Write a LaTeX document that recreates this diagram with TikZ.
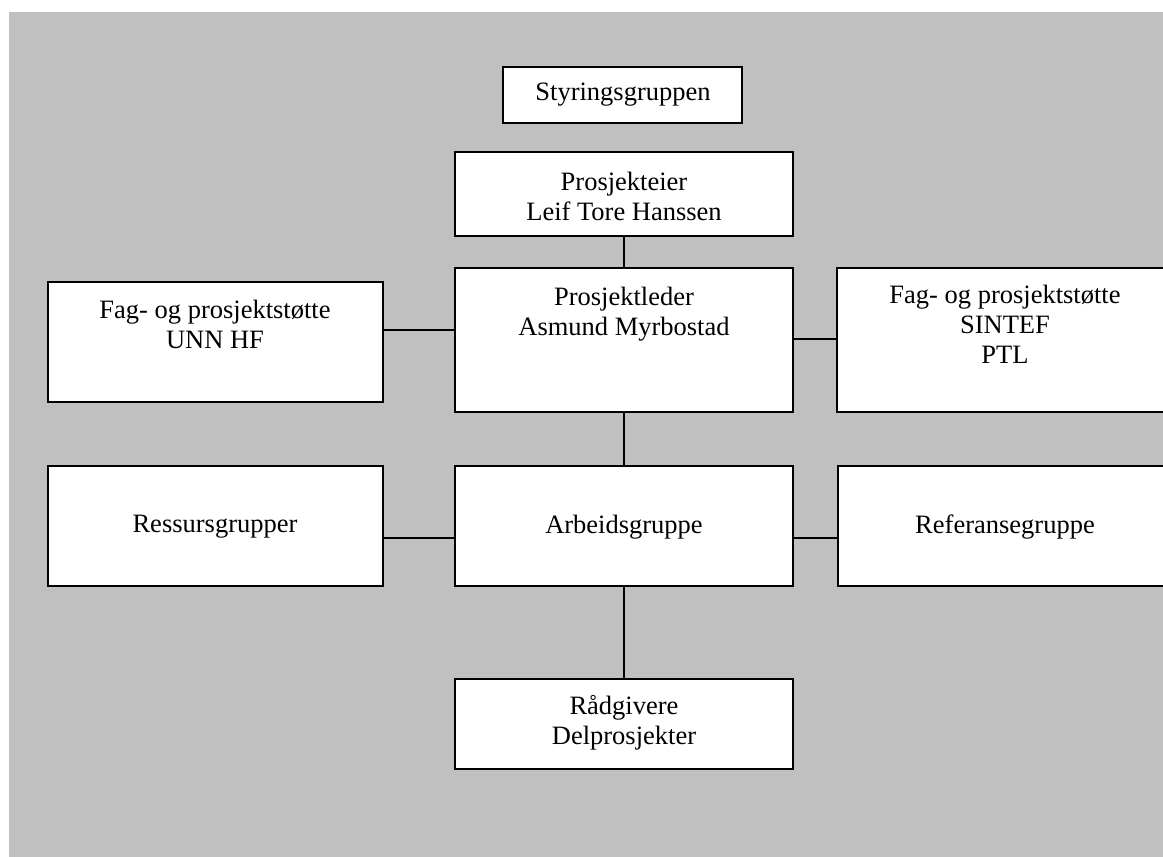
\documentclass[tikz,border=0pt]{standalone}
\usepackage{fontspec}
\setmainfont{Liberation Serif}
\usetikzlibrary{fit}
\definecolor{panel}{HTML}{C0C0C0}
\tikzset{
  box/.style={draw=black, line width=1pt, fill=white, inner sep=0pt},
  lbl/.style={align=center, font=\fontsize{13.25}{15}\selectfont, inner sep=0pt},
  link/.style={draw=black, line width=1pt}
}
\begin{document}
\begin{tikzpicture}[x=0.5pt, y=-0.5pt]
  \useasboundingbox (0,0) rectangle (1163,857);
  \fill[panel] (9,12) rectangle (1163,857);

  % boxes
  \node[box, fit={(503,67) (742,123)}] (sg) {};
  \node[box, fit={(455,152) (793,236)}] (pe) {};
  \node[box, fit={(455,268) (793,412)}] (pl) {};
  \node[box, fit={(48,282) (383,402)}] (unn) {};
  \node[box, fit={(837,268) (1173,412)}] (sin) {};
  \node[box, fit={(48,466) (383,586)}] (res) {};
  \node[box, fit={(455,466) (793,586)}] (arb) {};
  \node[box, fit={(838,466) (1173,586)}] (ref) {};
  \node[box, fit={(455,679) (793,769)}] (rad) {};

  % texts
  \node[lbl] (sgt) at (623,95) {Styringsgruppen};
  \node[lbl] (pet) at (624,196) {Prosjekteier\\Leif Tore Hanssen};
  \node[lbl] (plt) at (624,314) {Prosjektleder\\Asmund Myrbostad};
  \node[lbl] (unnt) at (215,324) {Fag- og prosjektstøtte\\UNN HF};
  \node[lbl] (sint) at (1005,324) {Fag- og prosjektstøtte\\SINTEF\\PTL};
  \node[lbl] (rest) at (215,527) {Ressursgrupper};
  \node[lbl] (arbt) at (624,527) {Arbeidsgruppe};
  \node[lbl] (reft) at (1005,527) {Referansegruppe};
  \node[lbl] (radt) at (624,723) {Rådgivere\\Delprosjekter};

  % connectors
  \coordinate (yl) at (0,330);
  \coordinate (yr) at (0,339);
  \coordinate (ya) at (0,538);
  \draw[link] (pe.south) -- (pl.north);
  \draw[link] (pl.south) -- (arb.north);
  \draw[link] (arb.south) -- (rad.north);
  \draw[link] (unn.east |- yl) -- (pl.west |- yl);
  \draw[link] (pl.east |- yr) -- (sin.west |- yr);
  \draw[link] (res.east |- ya) -- (arb.west |- ya);
  \draw[link] (arb.east |- ya) -- (ref.west |- ya);
\end{tikzpicture}
\end{document}
